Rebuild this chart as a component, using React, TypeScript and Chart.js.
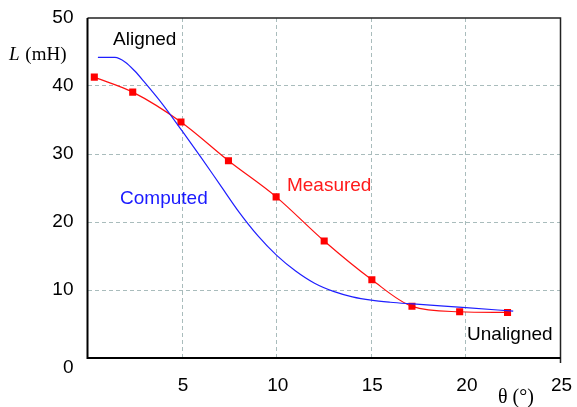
import React, { useEffect, useRef } from "react";
import { Chart, registerables } from "chart.js";

Chart.register(...registerables);

// Rotor angle θ (°) and phase inductance L (mH)
const thetaMeasured = [0.36, 2.39, 4.94, 7.45, 9.97, 12.51, 15.03, 17.15, 19.67, 22.2];
const inductanceMeasured = [41.3, 39.1, 34.7, 29.0, 23.7, 17.2, 11.5, 7.6, 6.8, 6.7];

const thetaComputed = [
  0.55, 1.45, 2.0, 2.5, 3.0, 4.0, 5.0, 6.0, 7.0, 8.0, 9.0, 10.0, 11.0, 12.0, 13.0, 14.0,
  15.0, 16.0, 17.2, 20.0, 22.5,
];
const inductanceComputed = [
  44.2, 44.2, 43.5, 42.2, 40.6, 37.2, 33.4, 29.5, 25.5, 21.5, 18.0, 15.1, 12.8, 11.0, 9.8, 9.0,
  8.5, 8.2, 7.95, 7.4, 6.9,
];

const xTicks = [5, 10, 15, 20, 25];
const yTicks = [0, 10, 20, 30, 40, 50];

const SANS = '"Liberation Sans", Arial, sans-serif';
const SERIF = '"Liberation Serif", "Times New Roman", serif';

const framePlugin = {
  id: "frame",
  afterDraw(chart: any) {
    const { ctx, chartArea: a, scales } = chart;
    const xs = scales.x;
    const ys = scales.y;
    ctx.save();
    ctx.setLineDash([]);

    // top and right frame
    ctx.strokeStyle = "#222";
    ctx.lineWidth = 1.5;
    ctx.beginPath();
    ctx.moveTo(a.left, a.top);
    ctx.lineTo(a.right, a.top);
    ctx.lineTo(a.right, a.bottom + 5);
    ctx.stroke();

    // left and bottom axes
    ctx.strokeStyle = "#000";
    ctx.lineWidth = 2;
    ctx.beginPath();
    ctx.moveTo(a.left, a.top);
    ctx.lineTo(a.left, a.bottom);
    ctx.lineTo(a.right, a.bottom);
    ctx.stroke();

    // tick labels
    ctx.fillStyle = "#000";
    ctx.font = `19px ${SANS}`;
    ctx.textAlign = "right";
    ctx.textBaseline = "middle";
    yTicks.forEach((v) => {
      const py = ys.getPixelForValue(v) + (v === 0 ? 10 : 0);
      ctx.fillText(String(v), a.left - 14, py);
    });
    ctx.textAlign = "center";
    ctx.textBaseline = "alphabetic";
    xTicks.forEach((v) => {
      ctx.fillText(String(v), xs.getPixelForValue(v) + 1, a.bottom + 33);
    });

    // axis titles
    ctx.textAlign = "left";
    ctx.font = `italic 19px ${SERIF}`;
    const lx = 9;
    const ly = a.top + 42;
    ctx.fillText("L", lx, ly);
    const lw = ctx.measureText("L ").width;
    ctx.font = `19px ${SERIF}`;
    ctx.fillText("(mH)", lx + lw + 1, ly);

    ctx.font = `20px ${SERIF}`;
    ctx.fillText("θ (°)", 498, a.bottom + 45);

    // curve labels
    ctx.font = `19px ${SANS}`;
    const note = (t: string, x: number, y: number, c: string) => {
      ctx.fillStyle = c;
      ctx.fillText(t, xs.getPixelForValue(x), ys.getPixelForValue(y));
    };
    note("Aligned", 1.35, 46.0, "#000");
    note("Computed", 1.72, 22.6, "#1a1aff");
    note("Measured", 10.54, 24.6, "#ff1a1a");
    note("Unaligned", 20.06, 2.65, "#000");

    ctx.restore();
  },
};

export default function App() {
  const ref = useRef<HTMLCanvasElement | null>(null);

  useEffect(() => {
    if (!ref.current) return;
    const measured = thetaMeasured.map((x, i) => ({ x, y: inductanceMeasured[i] }));
    const computed = thetaComputed.map((x, i) => ({ x, y: inductanceComputed[i] }));
    const gridColor = (ctx: any) => {
      const v = ctx.tick?.value;
      const s = ctx.scale;
      if (v === s.min || v === s.max) return "rgba(0,0,0,0)";
      return "#a9bcbc";
    };

    const chart = new Chart(ref.current, {
      type: "line",
      data: {
        datasets: [
          {
            label: "Computed",
            data: computed,
            borderColor: "#1f1fff",
            borderWidth: 1.2,
            pointRadius: 0,
            cubicInterpolationMode: "monotone",
            fill: false,
          },
          {
            label: "Measured",
            data: measured,
            borderColor: "#ff1010",
            backgroundColor: "#ff0000",
            borderWidth: 1.2,
            pointStyle: "rect",
            pointRadius: 5,
            pointBorderWidth: 0,
            pointBackgroundColor: "#ff0000",
            cubicInterpolationMode: "monotone",
            fill: false,
          },
        ],
      },
      options: {
        responsive: false,
        animation: false,
        devicePixelRatio: 1,
        layout: { padding: { left: 87.5, right: 16.5, top: 18, bottom: 49 } },
        plugins: { legend: { display: false }, tooltip: { enabled: false } },
        scales: {
          x: {
            type: "linear",
            min: 0,
            max: 25,
            ticks: { display: false, stepSize: 5 },
            grid: { color: gridColor, lineWidth: 1, drawTicks: false },
            border: { display: false, dash: [4, 3] },
          },
          y: {
            type: "linear",
            min: 0,
            max: 50,
            ticks: { display: false, stepSize: 10 },
            grid: { color: gridColor, lineWidth: 1, drawTicks: false },
            border: { display: false, dash: [4, 3] },
          },
        },
      } as any,
      plugins: [framePlugin],
    });

    return () => chart.destroy();
  }, []);

  return (
    <div style={{ position: "absolute", left: 0, top: 0, width: 577, height: 407, background: "#fff" }}>
      <canvas ref={ref} width={577} height={407} />
    </div>
  );
}
